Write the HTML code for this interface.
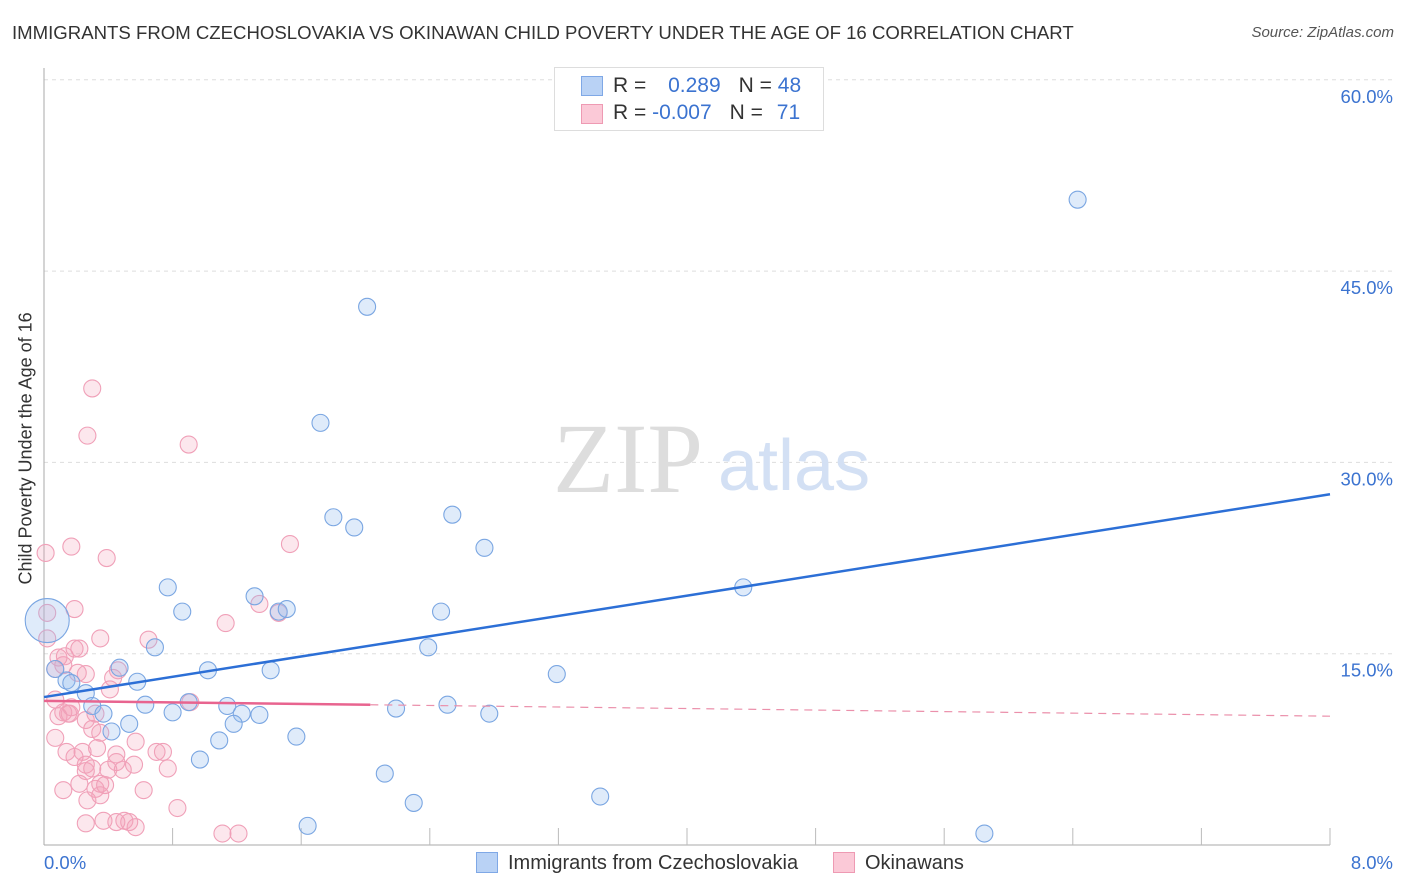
<!DOCTYPE html>
<html><head><meta charset="utf-8"><style>
body{margin:0;background:#fff;font-family:"Liberation Sans",sans-serif;}
#wrap{position:relative;width:1406px;height:892px;overflow:hidden;}
.t{position:absolute;white-space:nowrap;}
</style></head><body>
<div id="wrap">
<div class="t" style="left:12px;top:22px;font-size:18.6px;color:#333;">IMMIGRANTS FROM CZECHOSLOVAKIA VS OKINAWAN CHILD POVERTY UNDER THE AGE OF 16 CORRELATION CHART</div>
<div class="t" style="right:12px;top:24px;font-size:15px;color:#555;font-style:italic;">Source: ZipAtlas.com</div>
<svg id="svg" width="1406" height="892" style="position:absolute;left:0;top:0"></svg>
</div>
<script>
const xTicks=[0,0.8,1.6,2.4,3.2,4,4.8,5.6,6.4,7.2,8];
const yTicks=[15,30,45,60];
const yTickLabels=["15.0%","30.0%","45.0%","60.0%"];
const blueX=[6.43,2.01,1.72,1.80,1.93,2.54,2.74,4.35,0.77,0.86,1.31,1.46,1.51,2.47,0.69,2.39,0.47,1.02,1.41,3.19,0.58,0.14,0.26,0.30,0.63,0.80,0.90,1.14,1.23,1.34,2.19,2.51,2.77,0.53,0.42,1.18,1.09,1.57,0.97,2.12,2.30,3.46,1.64,5.85,0.17,0.37,0.07,0.02];
const blueY=[50.6,42.2,33.1,25.7,24.9,25.9,23.3,20.2,20.2,18.3,19.5,18.3,18.5,18.3,15.5,15.5,13.9,13.7,13.7,13.4,12.8,12.9,11.9,10.9,11.0,10.4,11.2,10.9,10.3,10.2,10.7,11.0,10.3,9.5,8.9,9.5,8.2,8.5,6.7,5.6,3.3,3.8,1.5,0.9,12.7,10.3,13.8,17.6];
const pinkX=[0.30,0.27,0.90,0.01,0.17,0.39,1.53,0.02,0.19,1.13,1.34,1.46,0.02,0.35,0.65,0.09,0.13,0.19,0.22,0.12,0.07,0.21,0.26,0.46,0.43,0.41,0.91,0.07,0.09,0.16,0.12,0.26,0.15,0.32,0.07,0.30,0.35,0.33,0.19,0.14,0.24,0.45,0.57,0.70,0.74,0.77,0.45,0.30,0.26,0.40,0.49,0.56,0.12,0.32,0.27,0.35,0.38,0.35,0.83,0.26,0.37,0.45,0.50,0.53,0.57,1.11,1.21,0.22,0.26,0.62,0.17];
const pinkY=[35.8,32.1,31.4,22.9,23.4,22.5,23.6,18.2,18.5,17.4,18.9,18.2,16.2,16.2,16.1,14.7,14.8,15.4,15.4,14.1,13.8,13.5,13.4,13.7,13.1,12.2,11.2,11.4,10.1,10.3,10.4,9.8,10.3,10.3,8.4,9.1,8.8,7.6,6.9,7.3,7.3,7.1,8.1,7.3,7.3,6.0,6.5,6.0,5.8,5.9,5.9,6.3,4.3,4.4,3.5,4.8,4.7,3.9,2.9,1.7,1.9,1.8,1.9,1.8,1.4,0.9,0.9,4.8,6.3,4.3,10.8];
const blueTrend=[11.6,27.5];
const pinkTrend=[11.3,10.1];
const ns="http://www.w3.org/2000/svg";
const svg=document.getElementById('svg');
const X=v=>44+v/8*1286, Y=v=>845-v/15*191.3;
function mk(t,a){const e=document.createElementNS(ns,t);for(const k in a)e.setAttribute(k,a[k]);svg.appendChild(e);return e;}
yTicks.forEach((v,i)=>{
 const g=mk('line',{x1:44,x2:1393,y1:Y(v),y2:Y(v),stroke:'#ddd','stroke-dasharray':'4,4'});
 
 
 const t=mk('text',{x:1393,y:Y(v)+23,'text-anchor':'end','font-size':18.5,fill:'#3b73d0','font-family':'Liberation Sans'});
 t.textContent=yTickLabels[i];
 
 
});
const ax=mk('line',{x1:44,x2:44,y1:68,y2:845,stroke:'#aaa'});


const bx=mk('line',{x1:44,x2:1330,y1:845,y2:845,stroke:'#aaa'});


xTicks.forEach((v,i)=>{if(i==0)return;
 const l=mk('line',{x1:X(v),x2:X(v),y1:828,y2:845,stroke:'#bbb'});
 
 });
const wm=mk('text',{x:553,y:492,'font-size':100,fill:'#ddd','font-family':'Liberation Serif'});wm.textContent='ZIP';


const wm2=mk('text',{x:718,y:490,'font-size':72,fill:'#d3e0f4','font-family':'Liberation Sans'});wm2.textContent='atlas';


pinkX.forEach((x,i)=>{const c=mk('circle',{cx:X(x),cy:Y(pinkY[i]),r:8.5,fill:'rgba(244,160,185,0.25)',stroke:'#f0a0b8','stroke-width':1.1});
 
 });
blueX.forEach((x,i)=>{const last=i==blueX.length-1;
 const c=mk('circle',{cx:X(x),cy:Y(blueY[i]),r:last?22:8.5,fill:'rgba(150,190,240,0.3)',stroke:'#7aa6e2','stroke-width':1.1});
 
 });
const bl=mk('line',{x1:X(0),y1:Y(blueTrend[0]),x2:X(8),y2:Y(blueTrend[1]),stroke:'#2c6fd6','stroke-width':2.5});


const pm=v=>pinkTrend[0]+(pinkTrend[1]-pinkTrend[0])*v/8;
const pl=mk('line',{x1:X(0),y1:Y(pm(0)),x2:X(2.03),y2:Y(pm(2.03)),stroke:'#e8648f','stroke-width':2.5});


const pd=mk('line',{x1:X(2.03),y1:Y(pm(2.03)),x2:X(8),y2:Y(pm(8)),stroke:'#eb90ab','stroke-width':1.2,'stroke-dasharray':'8,6'});


</script>
<div class="t" style="left:-104px;top:444px;transform:rotate(-90deg);font-size:18px;color:#333;width:260px;text-align:center;">Child Poverty Under the Age of 16</div>
<div class="t" style="left:44px;top:852px;font-size:18.5px;color:#3b73d0;">0.0%</div>
<div class="t" style="right:13px;top:852px;font-size:18.5px;color:#3b73d0;">8.0%</div>
<div style="position:absolute;left:554px;top:67px;width:268px;height:62px;border:1px solid #ddd;background:#fff;font-size:21px;">
 <div style="position:absolute;left:26px;top:8px;width:20px;height:18px;background:#b9d2f5;border:1px solid #7fa8e6"></div>
 <div class="t" style="left:58px;top:6px;color:#333">R = <span style="color:#3b73d0;margin-left:16px">0.289</span><span style="margin-left:18px">N = </span><span style="color:#3b73d0">48</span></div>
 <div style="position:absolute;left:26px;top:36px;width:20px;height:18px;background:#fbc9d7;border:1px solid #ee9ab3"></div>
 <div class="t" style="left:58px;top:33px;color:#333">R = <span style="color:#3b73d0">-0.007</span><span style="margin-left:18px">N = </span><span style="color:#3b73d0;margin-left:8px">71</span></div>
</div>
<div style="position:absolute;left:476px;top:852px;font-size:20px;color:#333;">
 <span style="display:inline-block;width:20px;height:19px;background:#b9d2f5;border:1px solid #7fa8e6;vertical-align:-4px;margin-right:10px"></span>Immigrants from Czechoslovakia</div>
<div style="position:absolute;left:833px;top:852px;font-size:20px;color:#333;">
 <span style="display:inline-block;width:20px;height:19px;background:#fbc9d7;border:1px solid #ee9ab3;vertical-align:-4px;margin-right:10px"></span>Okinawans</div>
</body></html>
